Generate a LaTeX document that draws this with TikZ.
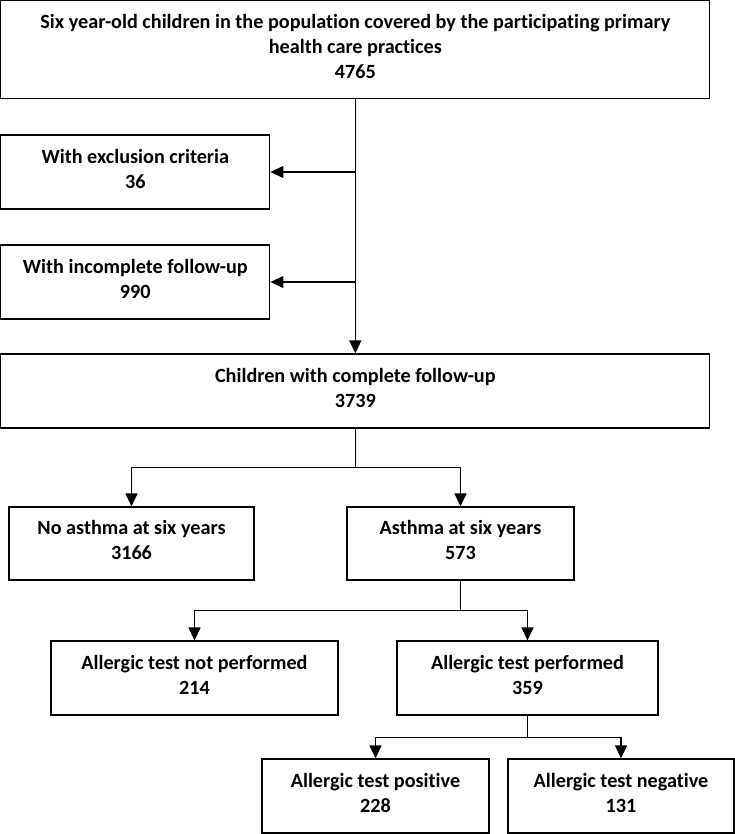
\documentclass[tikz,border=0pt]{standalone}
\usepackage{fontspec}
\setmainfont{Carlito}[Ligatures=NoCommon]
\usetikzlibrary{arrows.meta}

\tikzset{
 box/.style={draw, line width=1.2pt, align=center, inner sep=0pt, text depth=7pt,
   font=\fontsize{20.2}{25}\selectfont\bfseries},
 link/.style={line width=1.2pt},
 flow/.style={link, -{Triangle[length=13pt,width=12pt]}},
}

\begin{document}
\begin{tikzpicture}[x=1pt,y=-1pt]
\useasboundingbox (0,0) rectangle (735,834);
% population and exclusions
\node[box, minimum width=709pt, minimum height=98pt] (all) at (355.3,49.8)
 {Six year-old children in the population covered by the participating primary\\health care practices\\4765};
\node[box, minimum width=269pt, minimum height=74pt] (excl) at (135.3,172) {With exclusion criteria\\36};
\node[box, minimum width=269pt, minimum height=74pt] (incompl) at (135.3,282) {With incomplete follow-up\\990};
\node[box, minimum width=709pt, minimum height=74pt] (compl) at (355.3,391) {Children with complete follow-up\\3739};
% asthma
\node[box, minimum width=245pt, minimum height=73pt] (noasth) at (131.5,543.5) {No asthma at six years\\3166};
\node[box, minimum width=227pt, minimum height=73pt] (asth) at (460.5,543.5) {Asthma at six years\\573};
% allergic tests
\node[box, minimum width=287pt, minimum height=74pt] (notperf) at (194.5,678) {Allergic test not performed\\214};
\node[box, minimum width=261pt, minimum height=74pt] (perf) at (527.5,678) {Allergic test performed\\359};
\node[box, minimum width=227pt, minimum height=74pt] (pos) at (375.5,796) {Allergic test positive\\228};
\node[box, minimum width=226pt, minimum height=74pt] (neg) at (621,796) {Allergic test negative\\131};

\draw[flow] (all) -- (compl);
\draw[flow] (all.south |- excl.east) -- (excl.east);
\draw[flow] (all.south |- incompl.east) -- (incompl.east);

\coordinate (b1) at ([yshift=-39pt]compl.south);
\coordinate (b2) at ([yshift=-30pt]asth.south);
\coordinate (b3) at ([yshift=-22pt]perf.south);
\draw[link] (compl) -- (b1);
\draw[flow] (b1) -| (noasth);
\draw[flow] (b1) -| (asth);
\draw[link] (asth) -- (b2);
\draw[flow] (b2) -| (notperf);
\draw[flow] (b2) -| (perf);
\draw[link] (perf) -- (b3);
\draw[flow] (b3) -| (pos);
\draw[flow] (b3) -| (neg);
\end{tikzpicture}
\end{document}
